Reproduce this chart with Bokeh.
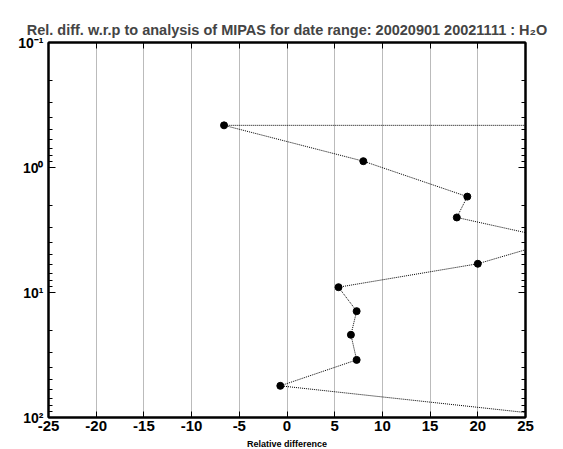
from bokeh.plotting import figure
from bokeh.models import (Range1d, LinearAxis, LogAxis, FixedTicker,
                          CustomJSTickFormatter, Title, ColumnDataSource)
from bokeh.embed import file_html
from bokeh.resources import INLINE

# Data (pressure levels and relative differences)
pressure = [0.46, 0.46, 0.89, 1.71, 2.51, 3.8, 5.89, 9.07, 14.1, 21.8, 34.6, 55.8, 100.0]
rel_diff = [45.0, -6.6, 8.0, 18.9, 17.8, 28.5, 20.0, 5.4, 7.3, 6.7, 7.3, -0.7, 29.8]
x_ticks = [-25, -20, -15, -10, -5, 0, 5, 10, 15, 20, 25]
y_ticks = [0.1, 1, 10, 100]
y_minor = [m * d for d in (0.1, 1, 10) for m in range(2, 10)]

title_text = "Rel. diff. w.r.p to analysis of MIPAS for date range: 20020901 20021111 : H\u2082O"
x_label = "Relative difference"

src = ColumnDataSource(dict(x=rel_diff, y=pressure))

p = figure(frame_width=477, frame_height=375, output_backend="svg", toolbar_location=None,
           x_range=Range1d(-25, 25), y_range=Range1d(100, 0.1), y_axis_type="log",
           min_border_left=48, min_border_top=42, min_border_right=30, min_border_bottom=32,
           title=None)

top_axis = LinearAxis()
right_axis = LogAxis()
p.add_layout(top_axis, "above")
p.add_layout(right_axis, "right")
p.add_layout(Title(text=title_text, text_font="Liberation Sans", text_font_style="bold",
                   text_font_size="14.5px", align="center", standoff=10), "above")

FONT = "Liberation Sans"
sup_js = """
const m = {"-":"\u207b","0":"\u2070","1":"\u00b9","2":"\u00b2","3":"\u00b3"};
const e = String(Math.round(Math.log10(tick)));
let s = "";
for (const c of e) s += m[c];
return "10" + s;
"""

for ax in p.xaxis:
    ax.ticker = FixedTicker(ticks=x_ticks)
    ax.formatter = CustomJSTickFormatter(code="return String(Math.round(tick));")
    ax.axis_line_width = 2
    ax.axis_line_color = "black"
    ax.major_tick_in = 6
    ax.major_tick_out = 0
    ax.minor_tick_in = 0
    ax.minor_tick_out = 0
    ax.major_tick_line_color = "black"
    ax.major_label_text_font = FONT
    ax.major_label_text_font_style = "bold"
    ax.major_label_text_font_size = "15px"
    ax.major_label_text_color = "black"
    ax.major_label_standoff = 3

for ax in p.yaxis:
    ax.ticker = FixedTicker(ticks=y_ticks, minor_ticks=y_minor)
    ax.axis_line_width = 2
    ax.axis_line_color = "black"
    ax.major_tick_in = 7
    ax.major_tick_out = 0
    ax.minor_tick_in = 4
    ax.minor_tick_out = 0
    ax.major_tick_line_color = "black"
    ax.minor_tick_line_color = "black"
    ax.major_label_text_font = FONT
    ax.major_label_text_font_style = "bold"
    ax.major_label_text_font_size = "14px"
    ax.major_label_text_color = "black"
    ax.major_label_standoff = 5
    ax.formatter = CustomJSTickFormatter(code=sup_js)

# bottom axis label
bottom = p.below[0]
bottom.axis_label = x_label
bottom.axis_label_text_font = FONT
bottom.axis_label_text_font_style = "bold"
bottom.axis_label_text_font_size = "9px"
bottom.axis_label_text_color = "black"
bottom.axis_label_standoff = 5

# no labels on the top and right axes
for ax in (top_axis, right_axis):
    ax.major_label_text_color = None
    ax.major_label_standoff = 0

p.xgrid.grid_line_color = "#777777"
p.xgrid.grid_line_dash = "1 1"
p.xgrid.grid_line_width = 1
p.ygrid.visible = False

p.outline_line_color = "black"
p.outline_line_width = 2

p.line("x", "y", source=src, line_color="black", line_width=1, line_dash="1 1")
p.scatter("x", "y", source=src, size=7, color="black")

open("out.html", "w").write(file_html(p, INLINE))
